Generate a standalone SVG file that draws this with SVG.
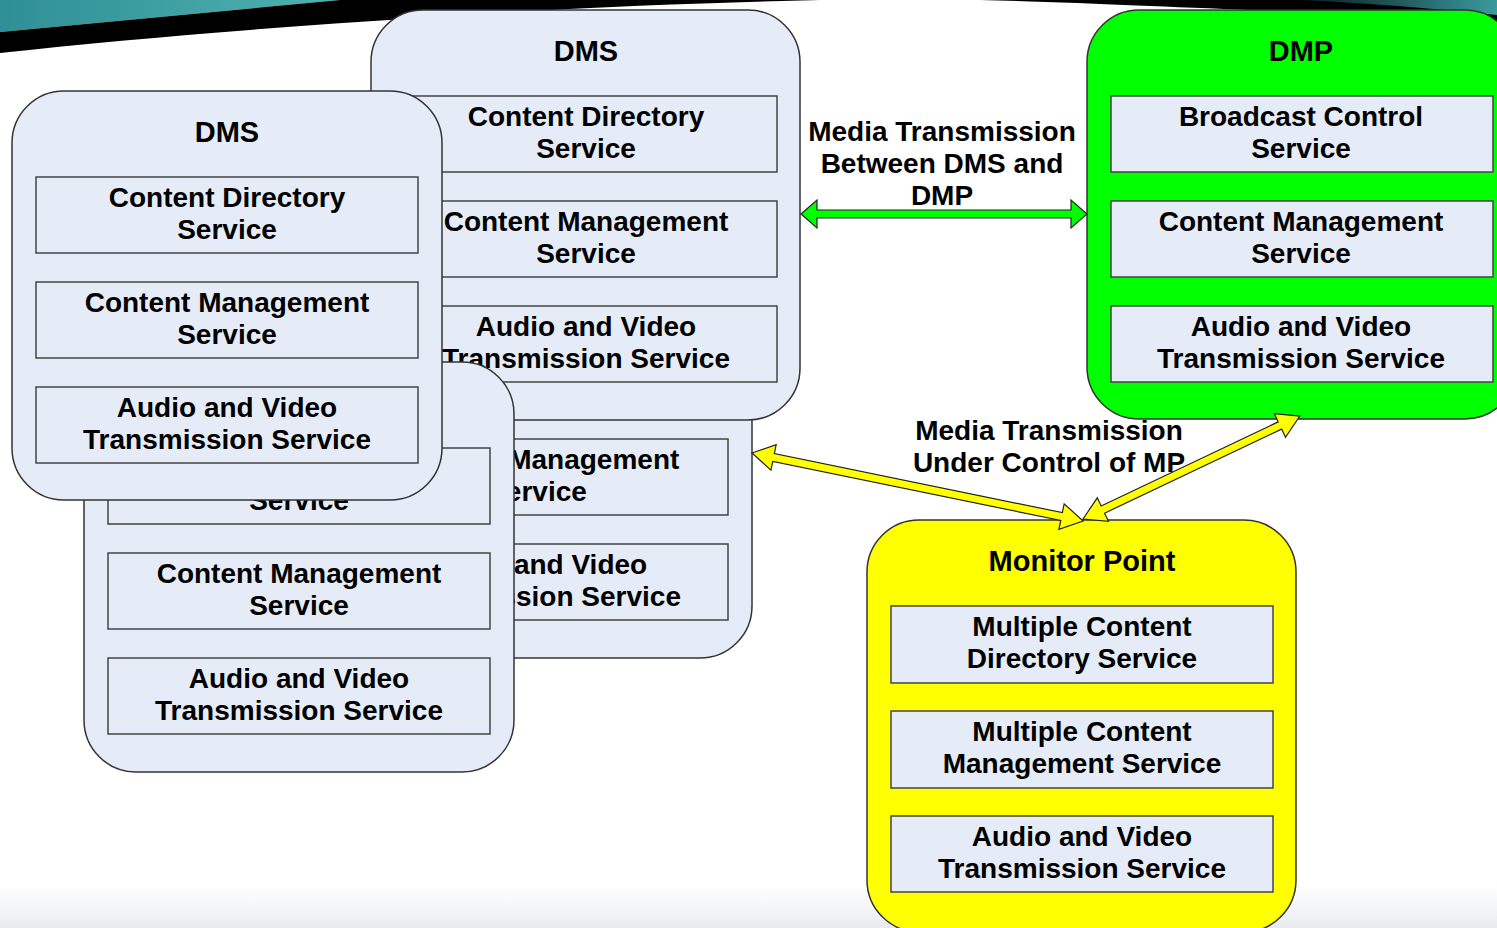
<svg xmlns="http://www.w3.org/2000/svg" width="1497" height="928" viewBox="0 0 1497 928">
  <defs>
    <linearGradient id="tealL" x1="0" y1="0" x2="1" y2="0">
      <stop offset="0" stop-color="#2f8f96"/>
      <stop offset="1" stop-color="#4fb2b0"/>
    </linearGradient>
    <linearGradient id="tealR" x1="0" y1="0" x2="1" y2="0">
      <stop offset="0" stop-color="#0a1a1c"/>
      <stop offset="1" stop-color="#3a9a9e"/>
    </linearGradient>
    <linearGradient id="haze" x1="0" y1="0" x2="0" y2="1">
      <stop offset="0" stop-color="#ffffff"/>
      <stop offset="1" stop-color="#e9ecef"/>
    </linearGradient>
    <style>
      .panel { fill: #e6ecf7; stroke: #333; stroke-width: 1.5; }
      .dmp { fill: #00ff00; stroke: #333; stroke-width: 1.5; }
      .mp { fill: #ffff00; stroke: #333; stroke-width: 1.5; }
      .box { fill: #e6ecf7; stroke: #444; stroke-width: 1.5; }
      text { font-family: "Liberation Sans", Arial, sans-serif; font-weight: bold; fill: #000; text-anchor: middle; }
      .t { font-size: 28px; }
      .h { font-size: 29px; }
      .lbl { font-size: 28px; }
      .green { fill: #00ff00; stroke: #222; stroke-width: 1.2; }
      .yellow { fill: #ffff00; stroke: #222; stroke-width: 1.2; }
    </style>
  </defs>

  <!-- page background -->
  <rect width="1497" height="928" fill="#ffffff"/>
  <rect x="0" y="885" width="1497" height="43" fill="url(#haze)"/>

  <!-- top banner -->
  <path d="M0,0 L340,0 L0,32 Z" fill="url(#tealL)"/>
  <path d="M0,32 L340,0 L820,0 C700,3 560,8 420,18 C260,28 120,40 0,53 Z" fill="#000"/>
  <path d="M980,0 L1497,0 L1497,20 C1380,15 1250,10 1150,6 C1080,3 1030,1 980,0 Z" fill="#000"/>
  <path d="M1300,0 L1497,0 L1497,15 C1440,9 1380,4 1300,0 Z" fill="url(#tealR)"/>

  <!-- DMS (rear): title and first box sit under the top panel -->
  <g id="dms-d" transform="translate(322,248)">
    <rect class="panel" x="0" y="0" width="430" height="410" rx="52"/>
    <rect class="box" x="24" y="86" width="382" height="76"/>
    <rect class="box" x="24" y="191" width="382" height="76"/>
    <text class="t" x="215" y="221">Content Management</text>
    <text class="t" x="215" y="253">Service</text>
    <rect class="box" x="24" y="296" width="382" height="76"/>
    <text class="t" x="215" y="326">Audio and Video</text>
    <text class="t" x="215" y="358">Transmission Service</text>
  </g>

  <!-- DMS (top) -->
  <g id="dms-b" transform="translate(371,10)">
    <rect class="panel" x="0" y="0" width="429" height="410" rx="52"/>
    <text class="h" x="215" y="51">DMS</text>
    <rect class="box" x="24" y="86" width="382" height="76"/>
    <text class="t" x="215" y="116">Content Directory</text>
    <text class="t" x="215" y="148">Service</text>
    <rect class="box" x="24" y="191" width="382" height="76"/>
    <text class="t" x="215" y="221">Content Management</text>
    <text class="t" x="215" y="253">Service</text>
    <rect class="box" x="24" y="296" width="382" height="76"/>
    <text class="t" x="215" y="326">Audio and Video</text>
    <text class="t" x="215" y="358">Transmission Service</text>
  </g>

  <!-- DMS (lower left): title and first line sit under the front panel -->
  <g id="dms-c" transform="translate(84,362)">
    <rect class="panel" x="0" y="0" width="430" height="410" rx="52"/>
    <rect class="box" x="24" y="86" width="382" height="76"/>
    <text class="t" x="215" y="148">Service</text>
    <rect class="box" x="24" y="191" width="382" height="76"/>
    <text class="t" x="215" y="221">Content Management</text>
    <text class="t" x="215" y="253">Service</text>
    <rect class="box" x="24" y="296" width="382" height="76"/>
    <text class="t" x="215" y="326">Audio and Video</text>
    <text class="t" x="215" y="358">Transmission Service</text>
  </g>

  <!-- DMS (front) -->
  <g id="dms-a" transform="translate(12,91)">
    <rect class="panel" x="0" y="0" width="430" height="409" rx="52"/>
    <text class="h" x="215" y="51">DMS</text>
    <rect class="box" x="24" y="86" width="382" height="76"/>
    <text class="t" x="215" y="116">Content Directory</text>
    <text class="t" x="215" y="148">Service</text>
    <rect class="box" x="24" y="191" width="382" height="76"/>
    <text class="t" x="215" y="221">Content Management</text>
    <text class="t" x="215" y="253">Service</text>
    <rect class="box" x="24" y="296" width="382" height="76"/>
    <text class="t" x="215" y="326">Audio and Video</text>
    <text class="t" x="215" y="358">Transmission Service</text>
  </g>

  <!-- DMP -->
  <g id="dmp" transform="translate(1087,10)">
    <rect class="dmp" x="0" y="0" width="430" height="409" rx="52"/>
    <text class="h" x="214" y="51">DMP</text>
    <rect class="box" x="24" y="86" width="382" height="76"/>
    <text class="t" x="214" y="116">Broadcast Control</text>
    <text class="t" x="214" y="148">Service</text>
    <rect class="box" x="24" y="191" width="382" height="76"/>
    <text class="t" x="214" y="221">Content Management</text>
    <text class="t" x="214" y="253">Service</text>
    <rect class="box" x="24" y="296" width="382" height="76"/>
    <text class="t" x="214" y="326">Audio and Video</text>
    <text class="t" x="214" y="358">Transmission Service</text>
  </g>

  <!-- Monitor Point -->
  <g id="monitor-point" transform="translate(867,520)">
    <rect class="mp" x="0" y="0" width="429" height="412" rx="52"/>
    <text class="h" x="215" y="51">Monitor Point</text>
    <rect class="box" x="24" y="86" width="382" height="77"/>
    <text class="t" x="215" y="116">Multiple Content</text>
    <text class="t" x="215" y="148">Directory Service</text>
    <rect class="box" x="24" y="191" width="382" height="77"/>
    <text class="t" x="215" y="221">Multiple Content</text>
    <text class="t" x="215" y="253">Management Service</text>
    <rect class="box" x="24" y="296" width="382" height="76"/>
    <text class="t" x="215" y="326">Audio and Video</text>
    <text class="t" x="215" y="358">Transmission Service</text>
  </g>

  <!-- connectors -->
  <g id="connectors">
    <text class="lbl" x="942" y="141">Media Transmission</text>
    <text class="lbl" x="942" y="173">Between DMS and</text>
    <text class="lbl" x="942" y="205">DMP</text>
    <path class="green" d="M801,214 L817,200 L817,210 L1071,210 L1071,200 L1087,214 L1071,228 L1071,218 L817,218 L817,228 Z"/>

    <text class="lbl" x="1049" y="440">Media Transmission</text>
    <text class="lbl" x="1049" y="472">Under Control of MP</text>
    <g transform="translate(752,453) rotate(11.6)">
      <path class="yellow" d="M0,0 L22,-13 L22,-4 L316,-4 L316,-13 L338,0 L316,13 L316,4 L22,4 L22,13 Z"/>
    </g>
    <g transform="translate(1083,519) rotate(-25.4)">
      <path class="yellow" d="M0,0 L22,-13 L22,-4 L218,-4 L218,-13 L240,0 L218,13 L218,4 L22,4 L22,13 Z"/>
    </g>
  </g>
</svg>
